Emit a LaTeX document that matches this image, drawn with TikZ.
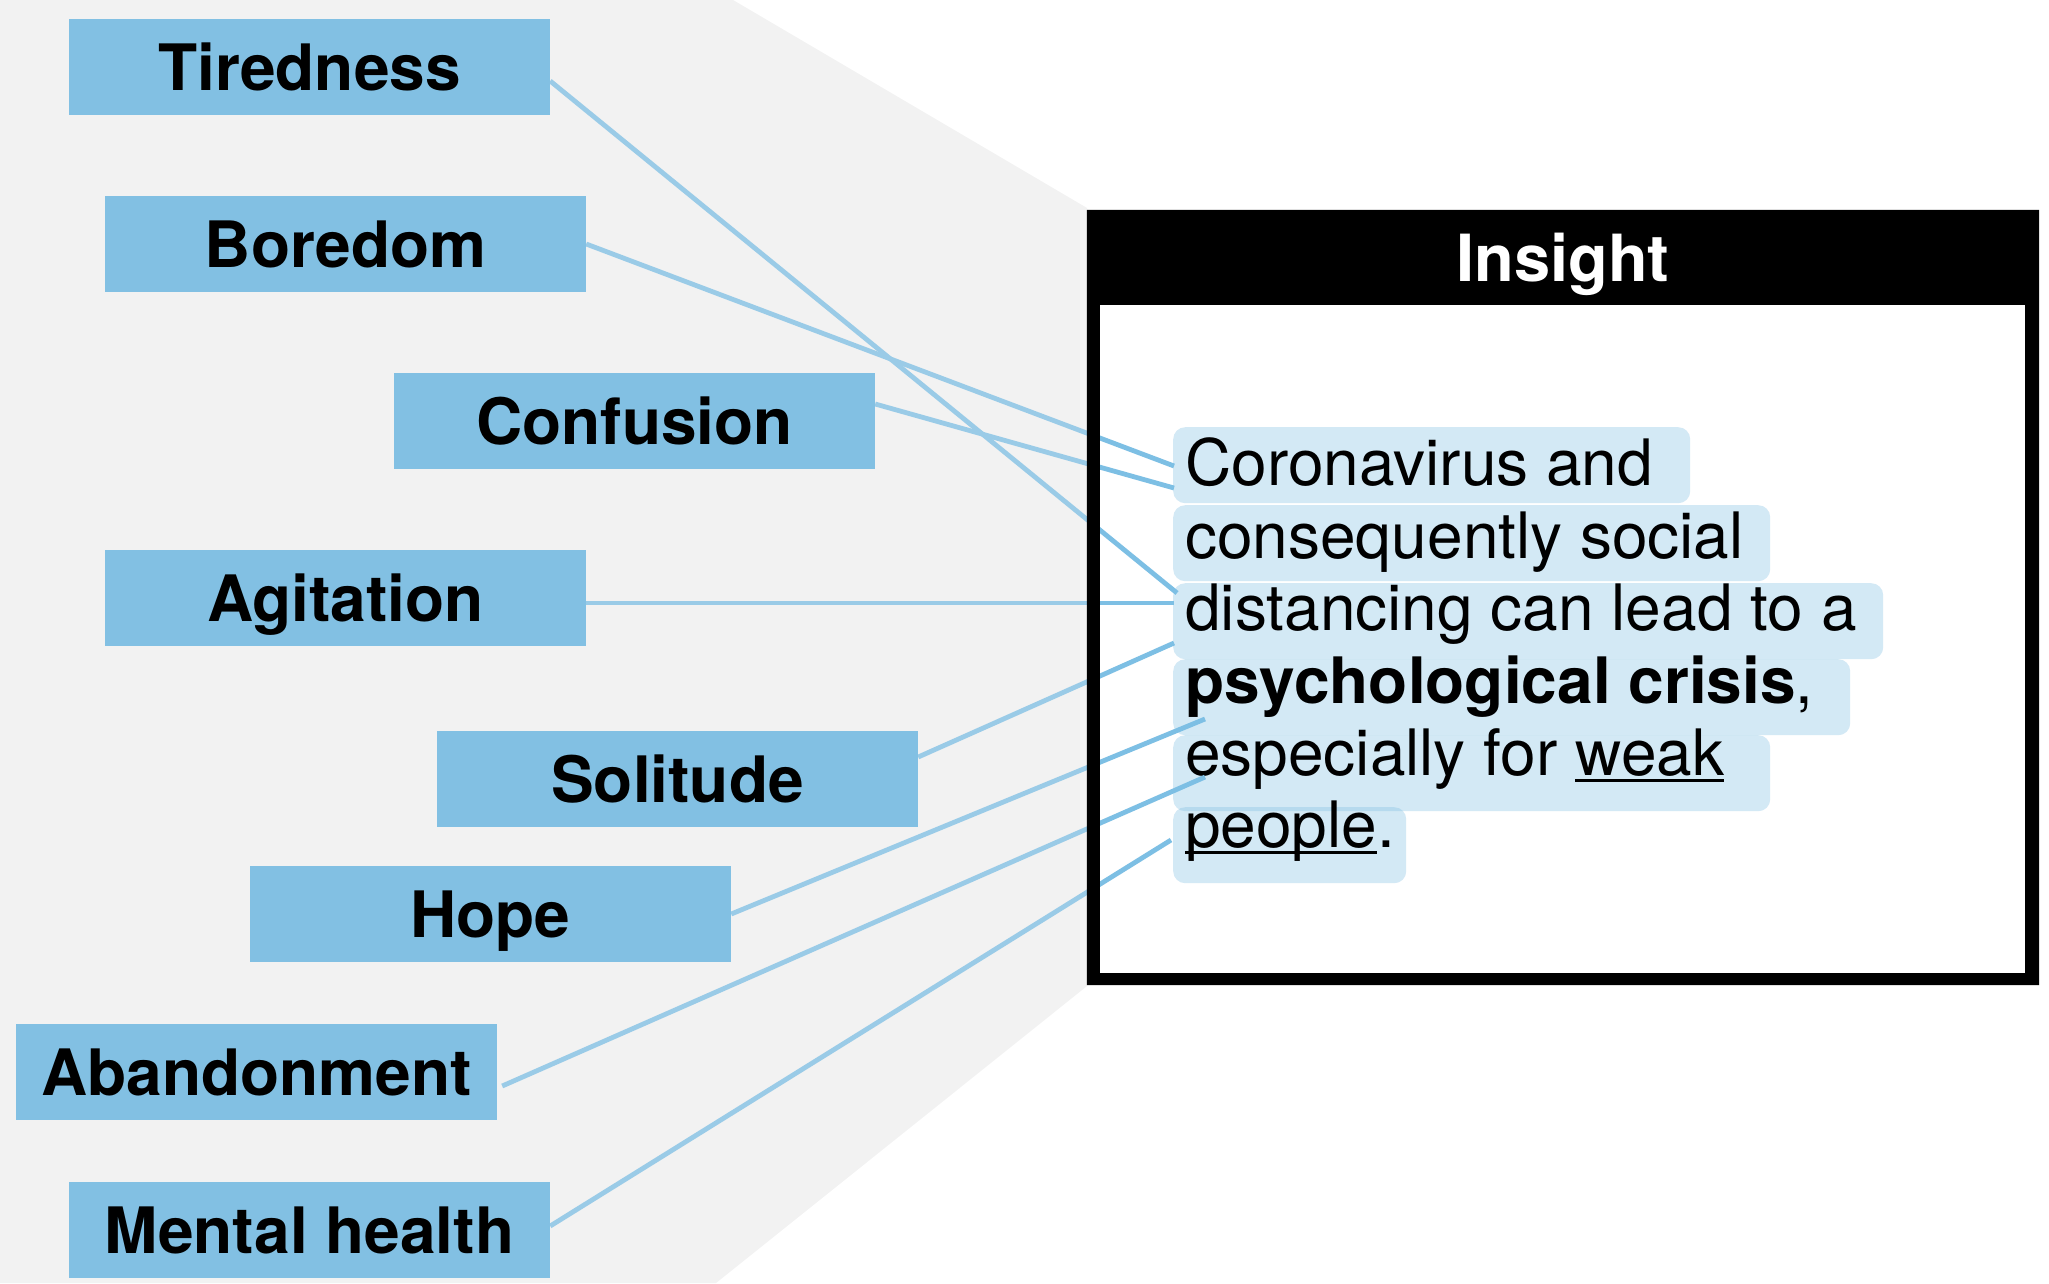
\documentclass[tikz,border=0pt]{standalone}
\usepackage{fontspec}
\setmainfont{TeX Gyre Heros}
\usetikzlibrary{calc}
\definecolor{labelblue}{HTML}{82C0E3}
\definecolor{linkblue}{HTML}{7DBFE4}
\definecolor{panelgray}{HTML}{F2F2F2}
% underline drawn just below the baseline, crossing descenders
\newcommand\lowul[1]{\setbox0\hbox{#1}\rlap{\rule[-7pt]{\wd0}{3pt}}\box0}
\begin{document}
\begin{tikzpicture}[x=1pt, y=-1pt,
  labelbox/.style={fill=labelblue, minimum width=481pt, minimum height=96pt,
    inner sep=0pt, text height=47pt, text depth=0pt,
    font=\fontsize{64}{70}\selectfont\bfseries},
  hlbox/.style={fill=labelblue, fill opacity=0.35, rounded corners=12pt,
    inner sep=0pt, anchor=north west, minimum height=76pt},
  bodytext/.style={inner sep=0pt, anchor=base west,
    font=\fontsize{64}{72}\selectfont},
  conn/.style={draw=linkblue, line width=4.8pt}]
\useasboundingbox (0,0) rectangle (2049,1283);

% grey panel behind the keyword list
\fill[panelgray] (0,0) -- (733,0) -- (1087,208) -- (1087,986) -- (716,1283) -- (0,1283) -- cycle;

% insight panel body
\node[fill=white, minimum width=952pt, minimum height=775pt, inner sep=0pt] (insight) at (1563,597.5) {};

% highlighted text lines
\node[hlbox, minimum width=517pt] (hl1) at (1173,427) {};
\node[hlbox, minimum width=597pt] (hl2) at (1173,505) {};
\node[hlbox, minimum width=710pt] (hl3) at (1173,583) {};
\node[hlbox, minimum width=677pt] (hl4) at (1173,659) {};
\node[hlbox, minimum width=597pt] (hl5) at (1173,735) {};
\node[hlbox, minimum width=233pt] (hl6) at (1173,807) {};

\node[bodytext] (t1) at (1185,485) {Coronavirus and};
\node[bodytext] (t2) at (1185,558) {consequently social};
\node[bodytext] (t3) at (1185,630) {distancing can lead to a};
\node[bodytext] (t4) at (1185,703) {\textbf{psychological crisis},};
\node[bodytext] (t5) at (1185,775) {especially for \lowul{weak}};
\node[bodytext] (t6) at (1185,847) {\lowul{people}.};

% connector end points on the text
\coordinate (eTired) at (1177,593);
\coordinate (eBored) at (1174,466);
\coordinate (eConf)  at (1174,488);
\coordinate (eAgit)  at (1174,603);
\coordinate (eSol)   at (1174,643);
\coordinate (eHope)  at (1205,719);
\coordinate (eAband) at (1205,777);
\coordinate (eMent)  at (1171,840);

% keyword labels (placed first so connectors can reference them)
\path
  node[labelbox] (tired) at (309.5,67)   {Tiredness}
  node[labelbox] (bored) at (345.5,244)  {Boredom}
  node[labelbox] (conf)  at (634.5,421)  {Confusion}
  node[labelbox] (agit)  at (345.5,598)  {Agitation}
  node[labelbox] (sol)   at (677.5,779)  {Solitude}
  node[labelbox] (hope)  at (490.5,914)  {Hope}
  node[labelbox] (aband) at (256.5,1072) {Abandonment}
  node[labelbox] (ment)  at (309.5,1230) {Mental health};

% connectors
\draw[conn] ([yshift=-14pt]tired.east) -- (eTired);
\draw[conn] (bored.east) -- (eBored);
\draw[conn] ([yshift=17pt]conf.east) -- (eConf);
\draw[conn] ([yshift=-5pt]agit.east) -- (eAgit);
\draw[conn] ([yshift=22pt]sol.east) -- (eSol);
\draw[conn] (hope.east) -- (eHope);
\draw[conn] ([xshift=5pt,yshift=-14pt]aband.east) -- (eAband);
\draw[conn] ([yshift=4pt]ment.east) -- (eMent);

% soften the connectors where they cross the grey panel
\fill[panelgray, fill opacity=0.25] (0,0) -- (733,0) -- (1087,208) -- (1087,986) -- (716,1283) -- (0,1283) -- cycle;

% redraw the labels above the panel tint
\path
  node[labelbox] at (tired) {Tiredness}
  node[labelbox] at (bored) {Boredom}
  node[labelbox] at (conf)  {Confusion}
  node[labelbox] at (agit)  {Agitation}
  node[labelbox] at (sol)   {Solitude}
  node[labelbox] at (hope)  {Hope}
  node[labelbox] at (aband) {Abandonment}
  node[labelbox] at (ment)  {Mental health};

% insight frame with title bar
\fill[black, even odd rule] (insight.north west) rectangle (insight.south east)
  ($(insight.north west)+(13,95)$) rectangle ($(insight.south east)+(-14,-12)$);
\node[text=white, inner sep=0pt, text height=47pt, text depth=0pt,
  font=\fontsize{65}{70}\selectfont\bfseries] (title) at (1563,257.5) {Insight};
\end{tikzpicture}
\end{document}
